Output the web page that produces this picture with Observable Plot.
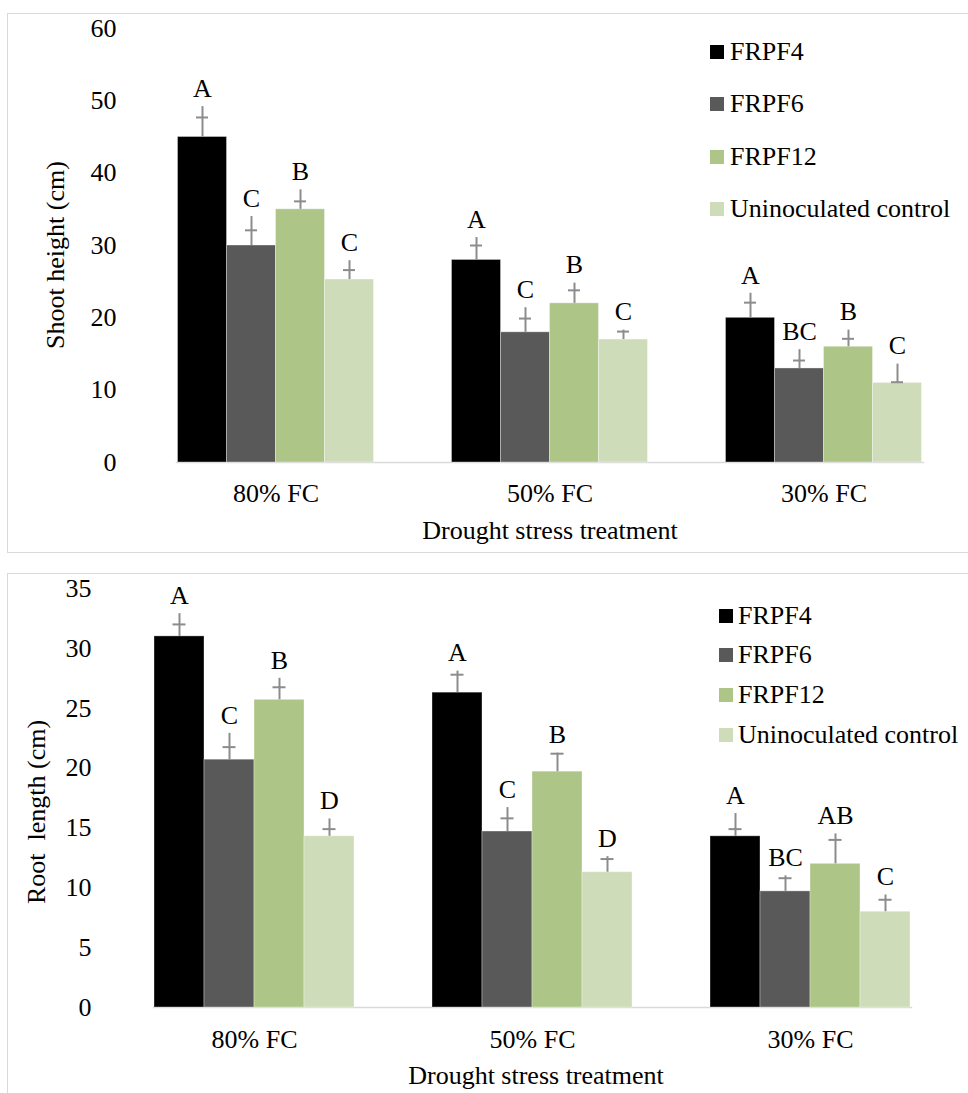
<!DOCTYPE html>
<html>
<head>
<meta charset="utf-8">
<script src="https://cdn.jsdelivr.net/npm/d3@7"></script>
<script src="https://cdn.jsdelivr.net/npm/@observablehq/plot@0.6"></script>
<style>
  html, body { margin: 0; padding: 0; background: #fff; }
  body { width: 968px; height: 1093px; position: relative; overflow: hidden; font-family: "Liberation Serif", "Times New Roman", serif; color: #000; }
  .box { position: absolute; border: 1.5px solid #d9d9d9; box-sizing: border-box; }
  .chart { position: absolute; left: 0; }
  .chart svg text { font-family: "Liberation Serif", "Times New Roman", serif; }
  .title { position: absolute; font-size: 26px; line-height: 26px; white-space: pre; transform: translate(-50%, -50%); }
  .ytitle { transform: translate(-50%, -50%) rotate(-90deg); }
  .legend { position: absolute; font-size: 26px; line-height: 26px; }
  .legend .row { position: absolute; white-space: nowrap; display: flex; align-items: center; }
  .legend .sw { width: 14px; height: 14px; display: inline-block; }
</style>
</head>
<body>
<div class="box" style="left:7px; top:13px; width:1000px; height:540px;"></div>
<div class="box" style="left:7px; top:573px; width:1000px; height:560px;"></div>
<div id="c1" class="chart" style="top:0px;"></div>
<div id="c2" class="chart" style="top:560px;"></div>
<div class="title ytitle" style="left:56px; top:255px;">Shoot height (cm)</div>
<div class="title" style="left:550px; top:531px;">Drought stress treatment</div>
<div class="title ytitle" style="left:37px; top:812px;">Root  length (cm)</div>
<div class="title" style="left:536px; top:1076px;">Drought stress treatment</div>
<div id="leg1" class="legend"></div>
<div id="leg2" class="legend"></div>
<script>
// ---------- shared categories ----------
const groups = ["80% FC", "50% FC", "30% FC"];
const series = ["FRPF4", "FRPF6", "FRPF12", "Uninoculated control"];
const colors = ["#000000", "#595959", "#adc586", "#cfdcb9"];

// ---------- chart 1: shoot height (cm) ----------
const shootTicks = [0, 10, 20, 30, 40, 50, 60];
const shootFRPF4   = [45, 28, 20];
const shootFRPF6   = [30, 18, 13];
const shootFRPF12  = [35, 22, 16];
const shootControl = [25.3, 17, 11];
// error bar line tops and cap positions
const shootTopFRPF4   = [49.2, 31.1, 23.4];
const shootTopFRPF6   = [34.0, 21.4, 15.6];
const shootTopFRPF12  = [37.7, 24.8, 18.3];
const shootTopControl = [27.9, 18.3, 13.6];
const shootCapFRPF4   = [47.7, 30.0, 22.1];
const shootCapFRPF6   = [32.1, 19.9, 14.1];
const shootCapFRPF12  = [36.1, 23.8, 17.1];
const shootCapControl = [26.6, 18.1, 11.1];
const shootLetFRPF4   = ["A", "A", "A"];
const shootLetFRPF6   = ["C", "C", "BC"];
const shootLetFRPF12  = ["B", "B", "B"];
const shootLetControl = ["C", "C", "C"];

// ---------- chart 2: root length (cm) ----------
const rootTicks = [0, 5, 10, 15, 20, 25, 30, 35];
const rootFRPF4   = [31, 26.3, 14.3];
const rootFRPF6   = [20.7, 14.7, 9.7];
const rootFRPF12  = [25.7, 19.7, 12.0];
const rootControl = [14.3, 11.3, 8.0];
const rootTopFRPF4   = [32.9, 28.1, 16.2];
const rootTopFRPF6   = [22.9, 16.7, 11.0];
const rootTopFRPF12  = [27.5, 21.25, 14.5];
const rootTopControl = [15.75, 12.6, 9.4];
const rootCapFRPF4   = [32.0, 27.8, 14.9];
const rootCapFRPF6   = [21.75, 15.8, 10.8];
const rootCapFRPF12  = [26.75, 21.2, 14.0];
const rootCapControl = [14.9, 12.4, 9.0];
const rootLetFRPF4   = ["A", "A", "A"];
const rootLetFRPF6   = ["C", "C", "BC"];
const rootLetFRPF12  = ["B", "B", "AB"];
const rootLetControl = ["D", "D", "C"];

function buildRows(values, tops, caps, letters) {
  const rows = [];
  groups.forEach((g, gi) => {
    series.forEach((s, si) => {
      rows.push({group: g, series: s, value: values[si][gi], top: tops[si][gi], cap: caps[si][gi], letter: letters[si][gi]});
    });
  });
  return rows;
}

const shootRows = buildRows(
  [shootFRPF4, shootFRPF6, shootFRPF12, shootControl],
  [shootTopFRPF4, shootTopFRPF6, shootTopFRPF12, shootTopControl],
  [shootCapFRPF4, shootCapFRPF6, shootCapFRPF12, shootCapControl],
  [shootLetFRPF4, shootLetFRPF6, shootLetFRPF12, shootLetControl]);
const rootRows = buildRows(
  [rootFRPF4, rootFRPF6, rootFRPF12, rootControl],
  [rootTopFRPF4, rootTopFRPF6, rootTopFRPF12, rootTopControl],
  [rootCapFRPF4, rootCapFRPF6, rootCapFRPF12, rootCapControl],
  [rootLetFRPF4, rootLetFRPF6, rootLetFRPF12, rootLetControl]);

function makeChart(rows, opts) {
  return Plot.plot({
    width: 968,
    height: opts.height,
    marginTop: opts.marginTop,
    marginBottom: opts.marginBottom,
    marginLeft: opts.marginLeft,
    marginRight: opts.marginRight,
    style: {fontFamily: "'Liberation Serif', 'Times New Roman', serif", fontSize: "26px", color: "#000", background: "transparent", overflow: "visible"},
    fx: {domain: groups, axis: "bottom", paddingInner: 0.2727, paddingOuter: 0.1364, label: null, tickSize: 0, tickPadding: opts.fxPad},
    x: {domain: series, padding: 0, axis: null},
    y: {domain: opts.domain, ticks: opts.ticks, tickSize: 0, tickPadding: opts.yPad, label: null},
    color: {domain: series, range: colors},
    marks: [
      Plot.frame({anchor: "bottom", facet: "super", stroke: "#d9d9d9", strokeWidth: 1.5}),
      Plot.barY(rows, {fx: "group", x: "series", y: "value", fill: "series", stroke: "#ffffff", strokeOpacity: 0.35, strokeWidth: 1}),
      Plot.ruleX(rows, {fx: "group", x: "series", y1: "value", y2: "top", stroke: "#8c8c8c", strokeWidth: 2}),
      Plot.tickY(rows, {fx: "group", x: "series", y: "cap", stroke: "#8c8c8c", strokeWidth: 2, insetLeft: 18.5, insetRight: 18.5}),
      Plot.text(rows, {fx: "group", x: "series", y: "top", text: "letter", dy: -18, lineAnchor: "middle", fill: "#000"})
    ]
  });
}

document.getElementById("c1").appendChild(makeChart(shootRows, {
  height: 560, marginTop: 28, marginBottom: 98, marginLeft: 137.5, marginRight: 5.5,
  domain: [0, 60], ticks: shootTicks, yPad: 60, fxPad: 21.5
}));
document.getElementById("c2").appendChild(makeChart(rootRows, {
  height: 533, marginTop: 28, marginBottom: 86, marginLeft: 114, marginRight: 17,
  domain: [0, 35], ticks: rootTicks, yPad: 62, fxPad: 22.5
}));

function legend(id, x, ys, gap) {
  const el = document.getElementById(id);
  series.forEach((s, i) => {
    const row = document.createElement("div");
    row.className = "row";
    row.style.left = x + "px";
    row.style.top = (ys[i] - 13) + "px";
    row.style.height = "26px";
    const sw = document.createElement("span");
    sw.className = "sw";
    sw.style.background = colors[i];
    sw.style.marginRight = gap + "px";
    const t = document.createElement("span");
    t.textContent = s;
    row.appendChild(sw);
    row.appendChild(t);
    el.appendChild(row);
  });
}
legend("leg1", 710, [52, 104, 157, 209], 6);
legend("leg2", 719, [616, 655, 695, 735], 5);
</script>
</body>
</html>
